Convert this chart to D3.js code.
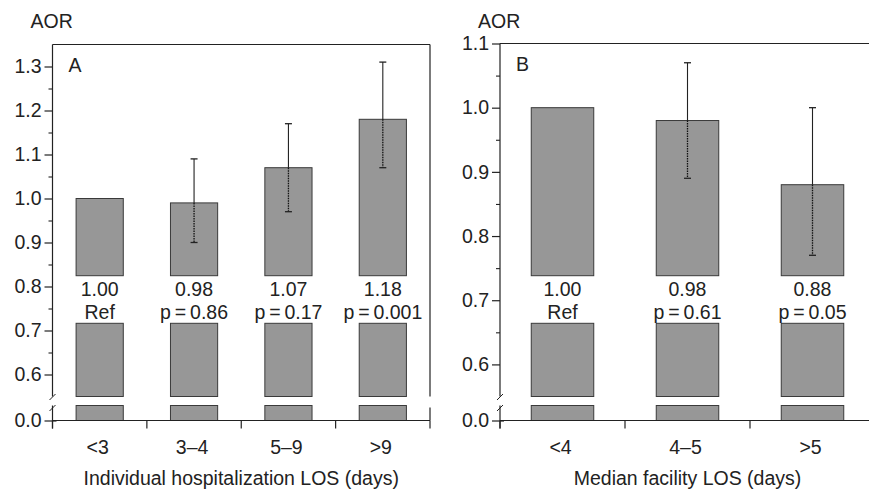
<!DOCTYPE html>
<html>
<head>
<meta charset="utf-8">
<script src="https://cdn.jsdelivr.net/npm/d3@7"></script>
<style>
  body { margin: 0; background: #fff; }
  svg { display: block; }
  text { font-family: "Liberation Sans", Arial, Helvetica, sans-serif; fill: #222; }
</style>
</head>
<body>
<svg id="chart" width="869" height="491"></svg>
<script>
// ---- data: panel A (individual LOS) ----
const groupsA  = ['<3', '3–4', '5–9', '>9'];
const aorA     = [1.00, 0.99, 1.07, 1.18];
const lowA     = [null, 0.90, 0.97, 1.07];
const highA    = [null, 1.09, 1.17, 1.31];
const valTextA = ['1.00', '0.98', '1.07', '1.18'];
const pTextA   = ['Ref', 'p\u2009=\u20090.86', 'p\u2009=\u20090.17', 'p\u2009=\u20090.001'];
const ticksA   = [0.6, 0.7, 0.8, 0.9, 1.0, 1.1, 1.2, 1.3];
const minorA   = [0.65, 0.75, 0.85, 0.95, 1.05, 1.15, 1.25];

// ---- data: panel B (median facility LOS) ----
const groupsB  = ['<4', '4–5', '>5'];
const aorB     = [1.00, 0.98, 0.88];
const lowB     = [null, 0.89, 0.77];
const highB    = [null, 1.07, 1.00];
const valTextB = ['1.00', '0.98', '0.88'];
const pTextB   = ['Ref', 'p\u2009=\u20090.61', 'p\u2009=\u20090.05'];
const ticksB   = [0.6, 0.7, 0.8, 0.9, 1.0, 1.1];
const minorB   = [0.65, 0.75, 0.85, 0.95, 1.05];

const INK = '#222';
const FS = 19.5;
const svg = d3.select('#chart');

// shared vertical layout (pixels)
const Y_BREAK_HI = 396.5;   // bottom of upper scale
const Y_BREAK_LO = 405.5;   // top of the stub below the break
const Y_ZERO     = 420.5;
const GAP_TOP    = 275.7;   // white band holding the value labels
const GAP_BOT    = 323.3;

function drawPanel(cfg) {
  const g = svg.append('g');
  const { left, right, top, yMax, groups, aor, low, high, valText, pText, ticks, minor, letter, title, closeRight } = cfg;

  const x = d3.scaleBand().domain(groups).range([left, right])
    .paddingInner(0.5).paddingOuter(0.25);
  const y = d3.scaleLinear().domain([0.55, yMax]).range([Y_BREAK_HI, top]);
  const y0 = d3.scaleLinear().domain([0, 0.03]).range([Y_ZERO, Y_BREAK_LO]);

  // bars, split by the label gap and the axis break
  groups.forEach((grp, i) => {
    const bx = x(grp), bw = x.bandwidth();
    const segs = [
      [y(aor[i]), GAP_TOP],
      [GAP_BOT, Y_BREAK_HI],
      [y0(0.03), y0(0)]
    ];
    segs.forEach(([a, b]) => {
      g.append('rect')
        .attr('x', bx).attr('y', a)
        .attr('width', bw).attr('height', b - a)
        .attr('fill', '#979797')
        .attr('stroke', '#3a3a3a').attr('stroke-width', 1);
    });
  });

  // error bars
  groups.forEach((grp, i) => {
    if (low[i] == null) return;
    const cx = x(grp) + x.bandwidth() / 2;
    const yt = y(aor[i]);
    g.append('line').attr('x1', cx).attr('x2', cx)
      .attr('y1', y(high[i])).attr('y2', yt)
      .attr('stroke', INK).attr('stroke-width', 1.1);
    g.append('line').attr('x1', cx).attr('x2', cx)
      .attr('y1', yt).attr('y2', y(low[i]))
      .attr('stroke', '#111').attr('stroke-width', 1.3)
      .attr('stroke-dasharray', '1.5,1');
    [high[i], low[i]].forEach(v => {
      g.append('line').attr('x1', cx - 3.5).attr('x2', cx + 3.5)
        .attr('y1', y(v)).attr('y2', y(v))
        .attr('stroke', INK).attr('stroke-width', 1.3);
    });
  });

  // value and p labels in the gap
  groups.forEach((grp, i) => {
    const cx = x(grp) + x.bandwidth() / 2;
    g.append('text').attr('x', cx).attr('y', 296)
      .attr('text-anchor', 'middle').attr('font-size', FS).text(valText[i]);
    g.append('text').attr('x', cx).attr('y', 318.5)
      .attr('text-anchor', 'middle').attr('font-size', FS).text(pText[i]);
  });

  // frame: top line and right side
  g.append('line').attr('x1', left).attr('x2', right)
    .attr('y1', top).attr('y2', top)
    .attr('stroke', INK).attr('stroke-width', 1.2);
  if (closeRight) {
    g.append('line').attr('x1', right).attr('x2', right)
      .attr('y1', top).attr('y2', Y_BREAK_HI)
      .attr('stroke', INK).attr('stroke-width', 1.2);
    g.append('line').attr('x1', right).attr('x2', right)
      .attr('y1', Y_BREAK_LO + 2).attr('y2', Y_ZERO)
      .attr('stroke', INK).attr('stroke-width', 1.2);
  }

  // y axis: upper part
  const ax = g.append('g').attr('transform', `translate(${left},0)`)
    .call(d3.axisLeft(y).tickValues(ticks).tickSize(8).tickPadding(3).tickFormat(d3.format('.1f')));
  ax.select('.domain').remove();
  ax.selectAll('line').attr('stroke', INK).attr('stroke-width', 1.2);
  ax.selectAll('text').attr('font-size', FS).attr('fill', INK).attr('font-family', null);

  const axm = g.append('g').attr('transform', `translate(${left},0)`)
    .call(d3.axisLeft(y).tickValues(minor).tickSize(4).tickFormat(''));
  axm.select('.domain').remove();
  axm.selectAll('line').attr('stroke', INK).attr('stroke-width', 1.1);

  // y axis: stub below the break
  const ax0 = g.append('g').attr('transform', `translate(${left},0)`)
    .call(d3.axisLeft(y0).tickValues([0]).tickSize(8).tickPadding(3).tickFormat(d3.format('.1f')));
  ax0.select('.domain').remove();
  ax0.selectAll('line').attr('stroke', INK).attr('stroke-width', 1.2).attr('x2', -8);
  ax0.selectAll('line').clone().attr('x2', 4);
  ax0.selectAll('text').attr('font-size', FS).attr('fill', INK).attr('font-family', null);

  g.append('line').attr('x1', left).attr('x2', left)
    .attr('y1', top).attr('y2', Y_BREAK_HI)
    .attr('stroke', INK).attr('stroke-width', 1.2);
  g.append('line').attr('x1', left).attr('x2', left)
    .attr('y1', Y_BREAK_LO).attr('y2', Y_ZERO + 8)
    .attr('stroke', INK).attr('stroke-width', 1.2);
  // break marks
  [[400, 394], [411, 405]].forEach(([ya, yb]) => {
    g.append('line').attr('x1', left - 3).attr('y1', ya)
      .attr('x2', left + 3).attr('y2', yb)
      .attr('stroke', INK).attr('stroke-width', 1);
  });

  // x axis
  g.append('line').attr('x1', left).attr('x2', right)
    .attr('y1', Y_ZERO).attr('y2', Y_ZERO)
    .attr('stroke', INK).attr('stroke-width', 1.2);
  const step = x.step();
  d3.range(groups.length + 1).forEach(k => {
    const xx = left + k * step;
    g.append('line').attr('x1', xx).attr('x2', xx)
      .attr('y1', Y_ZERO).attr('y2', Y_ZERO + 8)
      .attr('stroke', INK).attr('stroke-width', 1.2);
  });
  groups.forEach(grp => {
    g.append('text').attr('x', x(grp) + x.bandwidth() / 2 - 2).attr('y', 453.5)
      .attr('text-anchor', 'middle').attr('font-size', FS).text(grp);
  });

  g.append('text').attr('x', (left + right) / 2).attr('y', 485)
    .attr('text-anchor', 'middle').attr('font-size', FS).text(title);

  // panel letter and y label
  g.append('text').attr('x', left + 16).attr('y', top + 27.5)
    .attr('font-size', FS).text(letter);
  g.append('text').attr('x', left - 22).attr('y', 27.5)
    .attr('font-size', FS).text('AOR');
}

drawPanel({
  left: 52.5, right: 430, top: 44.5, yMax: 1.35,
  groups: groupsA, aor: aorA, low: lowA, high: highA,
  valText: valTextA, pText: pTextA, ticks: ticksA, minor: minorA,
  letter: 'A', title: 'Individual hospitalization LOS (days)', closeRight: true
});

drawPanel({
  left: 500, right: 875, top: 43.5, yMax: 1.1,
  groups: groupsB, aor: aorB, low: lowB, high: highB,
  valText: valTextB, pText: pTextB, ticks: ticksB, minor: minorB,
  letter: 'B', title: 'Median facility LOS (days)', closeRight: false
});
</script>
</body>
</html>
